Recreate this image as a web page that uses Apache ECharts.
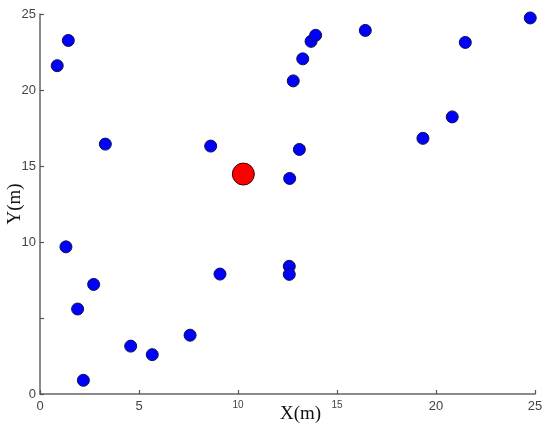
<!DOCTYPE html>
<html>
<head>
<meta charset="utf-8">
<script src="https://cdn.jsdelivr.net/npm/echarts@6/dist/echarts.min.js"></script>
<style>
  html, body { margin: 0; padding: 0; background: #fff; }
  #main { width: 550px; height: 429px; }
</style>
</head>
<body>
<div id="main"></div>
<script>
// node positions (m)
var nodeX = [0.87, 1.43, 3.30, 1.31, 2.71, 1.90, 2.19, 4.58, 5.67, 7.58, 9.09, 12.59, 12.59,
             12.61, 8.62, 13.10, 12.79, 13.27, 13.69, 13.92, 16.43, 21.48, 24.76, 20.82, 19.34];
var nodeY = [21.6, 23.26, 16.44, 9.68, 7.21, 5.59, 0.90, 3.15, 2.59, 3.87, 7.89, 8.40, 7.87,
             14.18, 16.31, 16.09, 20.6, 22.05, 23.2, 23.6, 23.92, 23.13, 24.74, 18.23, 16.82];
// sink / centre node
var sinkX = [10.27];
var sinkY = [14.47];
var xTicks = [0, 5, 10, 15, 20, 25];
var yTicks = [0, 5, 10, 15, 20, 25];

function pairs(xs, ys) {
  var out = [];
  for (var i = 0; i < xs.length; i++) out.push([xs[i], ys[i]]);
  return out;
}

var chart = echarts.init(document.getElementById('main'));

var axisCommon = {
  min: 0, max: 25, interval: 5,
  splitLine: { show: false },
  nameMoveOverlap: false,
  axisLine: { show: true, onZero: false, lineStyle: { color: '#666', width: 1.5 } },
  axisTick: { show: true, inside: true, length: 4, lineStyle: { color: '#555', width: 1.2 } },
  nameTextStyle: { fontFamily: 'Liberation Serif', fontSize: 19, color: '#111' }
};

var option = {
  animation: false,
  backgroundColor: '#fff',
  grid: { left: 40, right: 15, top: 14, bottom: 35, containLabel: false, outerBoundsMode: 'none' },
  xAxis: Object.assign({}, axisCommon, {
    type: 'value',
    name: 'X(m)',
    nameLocation: 'middle',
    nameGap: 11,
    nameTextStyle: { fontFamily: 'Liberation Serif', fontSize: 19, color: '#111', padding: [0, 0, 0, 26] },
    axisLabel: {
      margin: 6,
      color: '#444', fontFamily: 'Liberation Sans', fontSize: 13,
      formatter: function (v) {
        if (v === 10 || v === 15) return '{s|' + v + '}';
        return String(v);
      },
      rich: { s: { fontSize: 10, color: '#444', fontFamily: 'Liberation Sans' } }
    }
  }),
  yAxis: Object.assign({}, axisCommon, {
    type: 'value',
    name: 'Y(m)',
    nameLocation: 'middle',
    nameGap: 15,
    axisLabel: {
      margin: 4,
      color: '#444', fontFamily: 'Liberation Sans', fontSize: 13,
      formatter: function (v) { return v === yTicks[1] ? '' : String(v); }
    }
  }),
  series: [
    {
      type: 'scatter',
      data: pairs(nodeX, nodeY),
      symbolSize: 12,
      itemStyle: { color: '#0000ff', borderColor: '#10104a', borderWidth: 1, opacity: 1 }
    },
    {
      type: 'scatter',
      data: pairs(sinkX, sinkY),
      symbolSize: 22,
      itemStyle: { color: '#ff0000', borderColor: '#3a0000', borderWidth: 1, opacity: 1 }
    }
  ]
};

chart.setOption(option);
</script>
</body>
</html>
